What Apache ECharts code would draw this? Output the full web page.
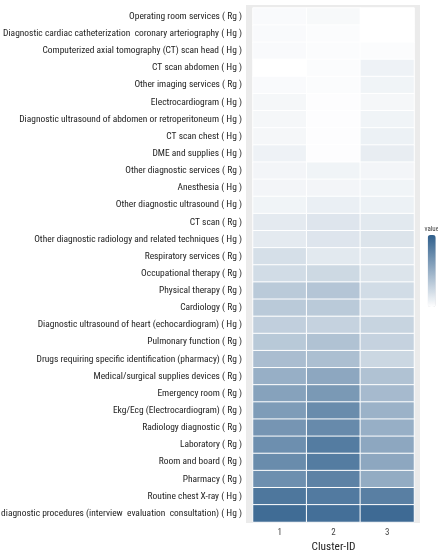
<!DOCTYPE html>
<html>
<head>
<meta charset="utf-8">
<script src="https://cdn.jsdelivr.net/npm/echarts@6/dist/echarts.min.js"></script>
<style>
  html, body { margin: 0; padding: 0; background: #fff; }
  #chart { width: 438px; height: 556px; }
</style>
</head>
<body>
<div id="chart"></div>
<script>
  // rows, top to bottom as in the picture
  const services = [
    'Operating room services ( Rg )',
    'Diagnostic cardiac catheterization  coronary arteriography ( Hg )',
    'Computerized axial tomography (CT) scan head ( Hg )',
    'CT scan abdomen ( Hg )',
    'Other imaging services ( Rg )',
    'Electrocardiogram ( Hg )',
    'Diagnostic ultrasound of abdomen or retroperitoneum ( Hg )',
    'CT scan chest ( Hg )',
    'DME and supplies ( Hg )',
    'Other diagnostic services ( Rg )',
    'Anesthesia ( Hg )',
    'Other diagnostic ultrasound ( Hg )',
    'CT scan ( Rg )',
    'Other diagnostic radiology and related techniques ( Hg )',
    'Respiratory services ( Rg )',
    'Occupational therapy ( Rg )',
    'Physical therapy ( Rg )',
    'Cardiology ( Rg )',
    'Diagnostic ultrasound of heart (echocardiogram) ( Hg )',
    'Pulmonary function ( Rg )',
    'Drugs requiring specific identification (pharmacy) ( Rg )',
    'Medical/surgical supplies devices ( Rg )',
    'Emergency room ( Rg )',
    'Ekg/Ecg (Electrocardiogram) ( Rg )',
    'Radiology diagnostic ( Rg )',
    'Laboratory ( Rg )',
    'Room and board ( Rg )',
    'Pharmacy ( Rg )',
    'Routine chest X-ray ( Hg )',
    'Other diagnostic procedures (interview  evaluation  consultation) ( Hg )'
  ]
  const clusters = ['1', '2', '3']

  // values (0 = white, 1 = darkest blue)
  const cluster1 = [0.03, 0.03, 0.03, 0.0, 0.03, 0.05, 0.05, 0.05, 0.08, 0.06,
    0.06, 0.07, 0.13, 0.13, 0.2, 0.22, 0.33, 0.33, 0.3, 0.34,
    0.41, 0.5, 0.58, 0.62, 0.66, 0.7, 0.72, 0.7, 0.85, 0.92]
  const cluster2 = [0.04, 0.02, 0.02, 0.02, 0.02, 0.01, 0.01, 0.01, 0.01, 0.07,
    0.06, 0.1, 0.16, 0.16, 0.14, 0.24, 0.36, 0.33, 0.28, 0.38,
    0.4, 0.55, 0.64, 0.72, 0.73, 0.82, 0.82, 0.78, 0.83, 0.9]
  const cluster3 = [0.0, 0.0, 0.02, 0.08, 0.07, 0.05, 0.07, 0.09, 0.11, 0.06,
    0.07, 0.09, 0.14, 0.17, 0.14, 0.17, 0.22, 0.2, 0.27, 0.28,
    0.25, 0.38, 0.43, 0.48, 0.5, 0.55, 0.55, 0.52, 0.8, 0.93]

  // the picture's text is very narrow, so take the narrowest font we have
  // and size it so the label widths come out about the same
  const ctx = document.createElement('canvas').getContext('2d')
  function measure(str, font) {
    ctx.font = font
    return ctx.measureText(str).width
  }
  function hasFont(fam) {
    const s = 'abcdefghijklmnopqrstuvwxyz ( Rg ) 0123456789'
    return measure(s, `72px '${fam}', monospace`) !== measure(s, '72px monospace') &&
      measure(s, `72px '${fam}', serif`) !== measure(s, '72px serif')
  }
  const candidates = ['Liberation Sans Narrow', 'DejaVu Sans Condensed', 'Roboto Condensed',
    'Liberation Sans', 'Roboto', 'Lato', 'Inter', 'Noto Sans', 'DejaVu Sans']
  const probe = 'Operating room services ( Rg )'
  let family = 'sans-serif'
  let best = Infinity
  candidates.forEach((fam) => {
    if (!hasFont(fam)) return
    const w = measure(probe, `100px '${fam}'`) / 100
    if (w < best) { best = w; family = `'${fam}'` }
  })
  const font = family + ', sans-serif'
  const labelSize = Math.min(11.5, 113 / (measure(probe, `100px ${font}`) / 100))
  const nameSize = Math.min(13, 44 / (measure('Cluster-ID', `100px ${font}`) / 100))

  const cells = []
  ;[cluster1, cluster2, cluster3].forEach((col, ci) => {
    col.forEach((v, ri) => cells.push([ci, ri, v]))
  })

  const chart = echarts.init(document.getElementById('chart'))
  chart.setOption({
    animation: false,
    grid: { left: 253, right: 24, top: 8, bottom: 34, containLabel: false, outerBoundsMode: 'none' },
    graphic: [
      // ggplot grey panel, a bit larger than the tiles
      { type: 'rect', z: -10, shape: { x: 246, y: 5, width: 174, height: 518 }, style: { fill: '#EBEBEB' } }
    ],
    xAxis: {
      type: 'category',
      data: clusters,
      offset: 1,
      name: 'Cluster-ID',
      nameLocation: 'middle',
      nameGap: 17,
      nameTextStyle: { color: '#222', fontSize: nameSize, fontFamily: font },
      axisLine: { show: false },
      axisTick: { alignWithLabel: true, length: 3, lineStyle: { color: '#555' } },
      axisLabel: { color: '#444', fontSize: 9, margin: 5, fontFamily: font },
      splitLine: { show: false }
    },
    yAxis: {
      type: 'category',
      data: services,
      inverse: true,
      offset: 7,
      axisLine: { show: false },
      axisTick: { alignWithLabel: true, length: 3, lineStyle: { color: '#555' } },
      axisLabel: { color: '#222', fontSize: labelSize, margin: 4, fontFamily: font, interval: 0 },
      splitLine: { show: false }
    },
    visualMap: {
      type: 'continuous',
      show: true,
      min: 0,
      max: 1,
      orient: 'vertical',
      right: -1,
      top: 226,
      padding: 0,
      itemWidth: 8,
      itemHeight: 72,
      text: ['value', ' '],
      textGap: 2,
      textStyle: { color: '#444', fontSize: 7, fontFamily: font },
      calculable: false,
      inRange: { color: ['#ffffff', '#2f5f8c'] }
    },
    series: [{
      type: 'heatmap',
      data: cells,
      itemStyle: { borderColor: '#ffffff', borderWidth: 1 },
      emphasis: { disabled: true }
    }]
  })
</script>
</body>
</html>
